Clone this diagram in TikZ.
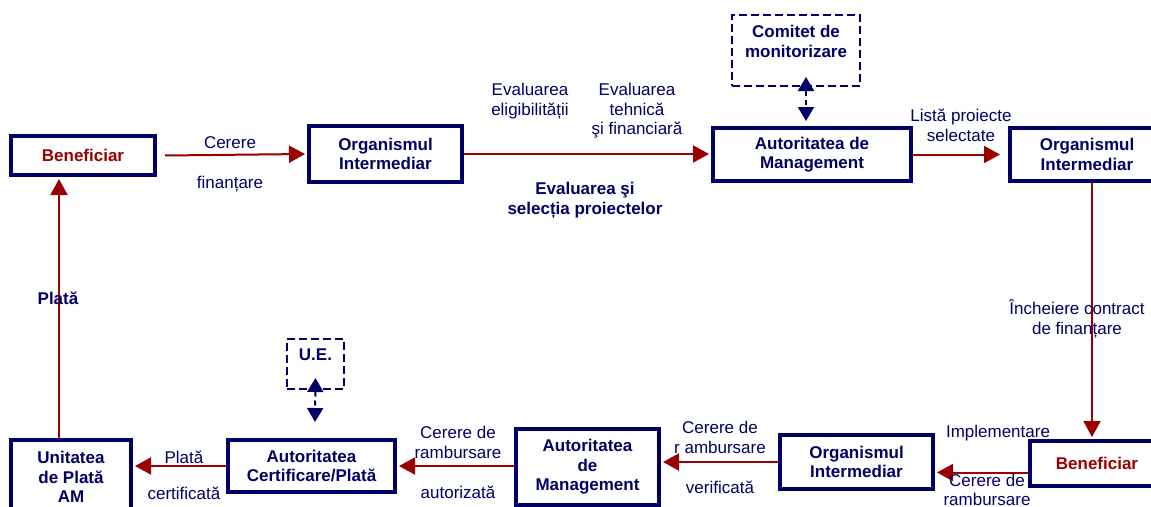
\documentclass[tikz,border=0pt]{standalone}
\usepackage{fontspec}
\setmainfont{Liberation Sans}
\usetikzlibrary{arrows.meta}
\definecolor{navy}{RGB}{0,0,102}
\definecolor{darkred}{RGB}{153,0,0}

\begin{document}
\begin{tikzpicture}[x = 1pt, y = -1pt,
    every node/.style = {font=\fontsize{17}{19.5}\selectfont, text=navy, align=center},
    box/.style = {draw=navy, line width=4pt, inner sep=0pt, font=\fontsize{17}{19.5}\selectfont\bfseries},
    dbox/.style = {draw=navy, line width=2pt, dash pattern=on 8pt off 4pt, inner sep=0pt},
    flow/.style = {draw=darkred, line width=2pt, -{Triangle[length=16pt,width=17pt]}},
    link/.style = {draw=navy, line width=2pt, dash pattern=on 5pt off 4pt,
                   {Triangle[length=14pt,width=16pt]}-{Triangle[length=14pt,width=16pt]}}]
          \useasboundingbox (0,0) rectangle (1151,506);
          \clip (0,0) rectangle (1151,506);
          % top row
          \node[box, minimum width=144pt, minimum height=39pt, text=darkred] (ben1) at (83,155.5) {Beneficiar};
          \node[box, minimum width=153pt, minimum height=56pt] (oi1) at (385.5,154) {Organismul\\Intermediar};
          \node[box, minimum width=198pt, minimum height=53pt] (am1) at (812,154.5) {Autoritatea de\\Management};
          \node[box, minimum width=154pt, minimum height=53pt] (oi2) at (1087,154.5) {Organismul\\Intermediar};
          \node[dbox, minimum width=128pt, minimum height=71pt] (cm) at (796,50.5) {};
          \node[font=\fontsize{17}{19.5}\selectfont\bfseries] (cmtext) at (796,41.5) {Comitet de\\monitorizare};
          % bottom row
          \node[box, minimum width=134pt, minimum height=45pt, text=darkred] (ben2) at (1097,463.5) {Beneficiar};
          \node[box, minimum width=153pt, minimum height=54pt] (oi3) at (856.5,462) {Organismul\\Intermediar};
          \node[box, minimum width=143pt, minimum height=76pt] (am2) at (587.5,467) {Autoritatea\\de\\Management};
          \node[box, minimum width=167pt, minimum height=52pt] (acp) at (311.5,466) {Autoritatea\\Certificare/Plată};
          \node[box, minimum width=120pt, minimum height=74pt] (upam) at (71,477) {Unitatea\\de Plată\\AM};
          \node[dbox, minimum width=57pt, minimum height=50pt] (ue) at (315.5,364) {};
          \node[font=\fontsize{17}{19.5}\selectfont\bfseries] (uetext) at (315.5,355) {U.E.};

          \draw[flow] ([xshift=8pt]ben1.east) -- ([xshift=-2pt]oi1.west);
          \draw[flow] (oi1.east) -- ([xshift=-2pt]oi1.east -| am1.west);
          \draw[flow] (am1.east) -- ([xshift=-8pt]am1.east -| oi2.west);
          \draw[flow] ([xshift=5pt]oi2.south) -- ([xshift=-5pt,yshift=2pt]ben2.north);
          \draw[flow] ([yshift=-9pt]ben2.west) -- ([yshift=-9pt,xshift=2pt]ben2.west -| oi3.east);
          \draw[flow] (oi3.west) -- ([xshift=2pt]oi3.west -| am2.east);
          \draw[flow] (am2.west |- acp.east) -- ([xshift=2pt]acp.east);
          \draw[flow] (acp.west) -- ([xshift=2pt]acp.west -| upam.east);
          \draw[flow] ([xshift=-12pt]upam.north) -- ([xshift=-12pt,yshift=-2pt]upam.north |- ben1.south);
          \draw[link] ([xshift=10pt,yshift=10pt]cm.south) -- ([xshift=-6pt,yshift=5pt]am1.north);
          \draw[link] ([yshift=12pt]ue.south) -- ([xshift=3.5pt,yshift=16pt]acp.north);

          % labels
          \node (cer) at (230,143) {Cerere};
          \node (fin) at (230,184) {finanțare};
          \node (elig) at (530,101) {Evaluarea\\eligibilității};
          \node (teh) at (637,111) {Evaluarea\\tehnică\\şi financiară};
          \node[font=\fontsize{17}{19.5}\selectfont\bfseries] (sel) at (585,200.5) {Evaluarea şi\\selecția proiectelor};
          \node (lst) at (961,125.5) {Listă proiecte\\selectate};
          \node (contr) at (1077,319) {Încheiere contract\\de finanțare};
          \node (impl) at (998,433) {Implementare};
          \node (cr1) at (987,490) {Cerere de\\rambursare};
          \node (cr2) at (720,437.5) {Cerere de\\r ambursare};
          \node (ver) at (720,487) {verificată};
          \node (cr3) at (458,442.5) {Cerere de\\rambursare};
          \node (aut) at (458,492) {autorizată};
          \node (pl1) at (184,457) {Plată};
          \node (cert) at (184,493) {certificată};
          \node[font=\fontsize{17}{19.5}\selectfont\bfseries] (pl2) at (58,298) {Plată};
\end{tikzpicture}
\end{document}
